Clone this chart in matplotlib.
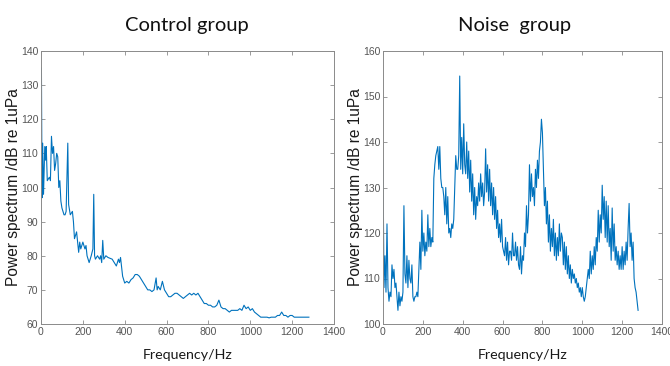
import matplotlib
matplotlib.use("Agg")
import matplotlib.pyplot as plt

# ---- data ----
control_freq = [2, 5, 8, 12, 18, 22, 25, 30, 40, 45, 50, 55, 60, 65, 70, 75, 80, 85, 90, 95,
                100, 105, 110, 115, 120, 128, 132, 140, 150, 155, 160, 170, 175, 180, 185, 190,
                200, 210, 215, 220, 230, 240, 248, 252, 256, 260, 270, 280, 285, 290, 295, 300,
                310, 320, 340, 350, 360, 370, 375, 380, 390, 400, 410, 420, 430, 440, 450, 460,
                470, 480, 490, 500, 510, 520, 530, 540, 550, 555, 560, 570, 580, 590, 600, 610,
                620, 630, 640, 650, 660, 670, 680, 690, 700, 710, 720, 730, 740, 750, 760, 770,
                780, 790, 800, 810, 820, 830, 840, 850, 860, 870, 880, 890, 900, 910, 920, 930,
                940, 950, 960, 970, 980, 990, 1000, 1010, 1020, 1030, 1040, 1050, 1060, 1070,
                1080, 1090, 1100, 1110, 1120, 1130, 1140, 1150, 1160, 1170, 1180, 1190, 1200,
                1210, 1220, 1230, 1240, 1250, 1260, 1270, 1280]
control_db = [135, 97, 113, 98, 112, 108, 112, 102, 103, 102, 115, 110, 112, 105, 107, 110, 109, 100, 102, 96,
              94, 93, 92, 92, 93, 113, 95, 92, 93, 90, 85, 87, 84, 81, 84, 82,
              84, 82, 83, 80, 78, 80, 82, 98, 80, 79, 80, 79, 80, 78, 84.5, 79,
              80, 79.5, 79, 78, 77, 79, 78, 79.5, 74, 72, 72.5, 72, 73, 73.5, 74.5, 74.5,
              74, 73, 72, 71, 70, 70, 69.5, 70, 73.5, 70, 71, 70, 72.5, 70, 69, 68,
              68, 68.5, 69, 69, 68.5, 68, 67.5, 68, 68.5, 69, 68.5, 69, 68.5, 69, 68, 67,
              66, 66, 65.5, 65.5, 65, 65, 65.5, 67, 65, 64.5, 64.5, 64, 63.5, 64, 64, 64,
              64, 64.5, 64, 65.5, 64.5, 65, 64, 64.5, 63.5, 63, 62.5, 62, 62, 62,
              62, 61.8, 62, 62, 62, 62.5, 62.5, 63.5, 62.5, 62.5, 62, 62.5, 62.5,
              62, 62, 62, 62, 62, 62, 62, 62]

noise_freq = list(range(0, 1285, 5))
noise_db = [136, 108, 115, 107, 122, 108, 105, 107, 106, 113, 110, 112, 108, 109, 106, 103, 107, 104, 106, 105,
            107, 126, 111, 109, 115, 108, 114, 110, 109, 113, 106, 105, 106, 106, 107, 106, 112, 118, 112, 125,
            116, 120, 115, 118, 116, 124, 117, 121, 117, 119, 118, 132, 135, 137, 138, 139, 134, 139, 132, 130,
            130, 128, 124, 130, 122, 128, 120, 121, 119, 122, 121, 123, 130, 137, 134, 134, 137, 154.5, 134, 141,
            133, 144, 135, 133, 140, 132, 138, 129, 136, 127, 133, 124, 130, 123, 128, 126, 131, 127, 133, 128,
            131, 126, 129, 138.5, 129, 135, 127, 134, 126, 131, 124, 130, 123, 128, 121, 125, 119, 122, 118, 123,
            117, 116, 115, 119, 114, 118, 113, 116, 116, 114, 120, 115, 115, 118, 114, 117, 113, 112, 117, 111,
            115, 114, 120, 117, 126, 120, 124, 135, 127, 133, 128, 130, 126, 134, 130, 136, 132, 138, 140, 145,
            142, 134, 126, 130, 122, 127, 118, 124, 116, 121, 117, 123, 115, 120, 114, 119, 115, 122, 116, 120,
            119, 113, 118, 112, 117, 111, 115, 110, 113, 109, 112, 110, 111, 109, 110, 108, 109, 107, 108, 106,
            108, 106, 105, 106, 108, 110, 112, 110, 116, 111, 115, 112, 117, 113, 119, 116, 125, 118, 124, 120,
            130.5, 123, 128, 119, 127, 118, 126, 117, 121, 114, 125.5, 116, 122, 114, 117, 113, 116, 112, 115, 112,
            117, 112, 116, 113, 118, 114, 121, 126.5, 117, 120, 114, 118, 110, 108, 107, 105, 103]

titles = ["Control group", "Noise  group"]
ylims = [(60, 140), (100, 160)]
yticks = [list(range(60, 141, 10)), list(range(100, 161, 10))]
xticks = list(range(0, 1401, 200))

line_color = "#0072BD"
axis_color = "#8a8a8a"

title_font = ["Lato", "DejaVu Sans"]
label_font = ["Liberation Sans", "DejaVu Sans"]

fig = plt.figure(figsize=(6.7, 3.66), dpi=100)
positions = [[41/670, 1-324/366, (334-41)/670, (324-51)/366],
             [383/670, 1-324/366, (662-383)/670, (324-51)/366]]
title_x = [187/670, 515/670]

series = [(control_freq, control_db), (noise_freq, noise_db)]
for i in range(2):
    ax = fig.add_axes(positions[i])
    fx, fy = series[i]
    ax.plot(fx, fy, color=line_color, linewidth=0.8)
    ax.set_xlim(0, 1400)
    ax.set_ylim(*ylims[i])
    ax.set_xticks(xticks)
    ax.set_yticks(yticks[i])
    ax.tick_params(direction="in", length=3, width=0.6, colors=axis_color,
                   top=True, right=True, pad=2)
    for lbl in ax.get_xticklabels() + ax.get_yticklabels():
        lbl.set_color("#555555")
        lbl.set_family(label_font)
        lbl.set_fontsize(7.5)
    for sp in ax.spines.values():
        sp.set_color(axis_color)
        sp.set_linewidth(0.7)
    ax.set_ylabel("Power spectrum /dB re 1uPa", family=label_font, fontsize=11.2,
                  color="#1a1a1a", labelpad=0)
    ax.set_xlabel("Frequency/Hz", family=title_font, fontsize=10.3, color="#1a1a1a", labelpad=9)
    fig.text(title_x[i], 1-25/366, titles[i], ha="center", va="center",
             family=title_font, fontsize=14.5, color="#111111")

fig.savefig("out.png", dpi=100)
